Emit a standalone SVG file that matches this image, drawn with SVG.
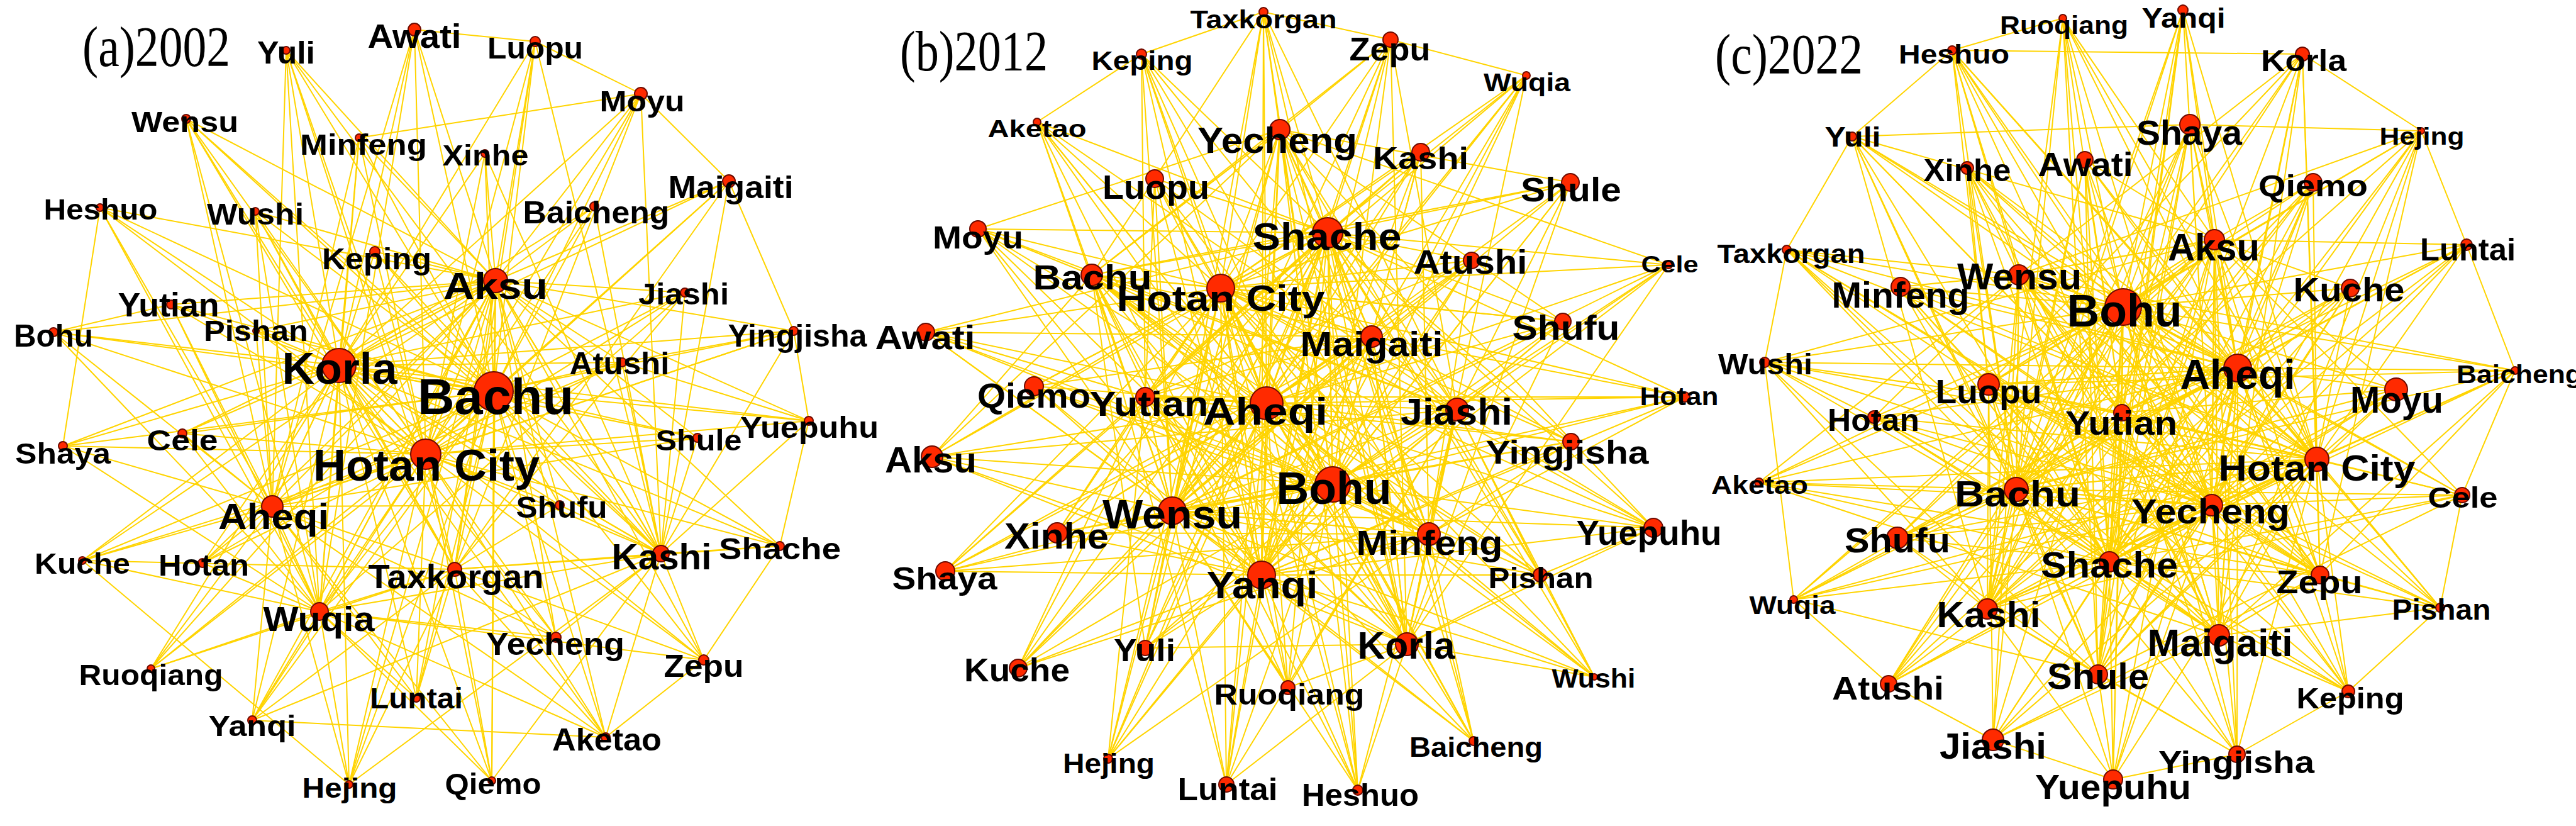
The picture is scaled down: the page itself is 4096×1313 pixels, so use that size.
<svg xmlns="http://www.w3.org/2000/svg" width="4096" height="1313" viewBox="0 0 4096 1313">
<style>
.e{fill:none;stroke:#FFD400;stroke-width:2;stroke-linejoin:round}
.n{fill:#FF2A00;stroke:#6E0A00;stroke-width:2}
.t{font-family:"Liberation Sans",Arial,sans-serif;font-weight:bold;text-anchor:middle;fill:#000}
.ttl{font-family:"Liberation Serif","Times New Roman",serif;font-size:90px;fill:#000}
</style>
<rect width="4096" height="1313" fill="#fff"/>
<g id="connectors">
<g id="edges-a">
<path class="e" d="M455 80L785 622 659 47M851 66L785 622 1019 149M296 189L785 622 571 219M771 244L785 622 1159 288M159 330L785 622 406 336M945 328L785 622 596 400M788 446L785 622 1089 465M272 484L785 622 85 528M407 526L785 622 1262 526M539 581L785 622 989 576M785 622L785 622 290 689M100 709L785 622 677 722M1109 696L785 622 1286 669M890 803L785 622 433 805M1051 880L785 622 1240 868M131 891L785 622 322 895M723 905L785 622 508 972M884 1013L785 622 1119 1049M240 1063L785 622 662 1110M401 1145L785 622 963 1172M555 1247L785 622 782 1241"/>
<path class="e" d="M455 80L539 581 659 47M851 66L539 581 1019 149M296 189L539 581 571 219M771 244L539 581 1159 288M159 330L539 581 406 336M945 328L539 581 596 400M788 446L539 581 1089 465M272 484L539 581 85 528M407 526L539 581 1262 526M539 581L539 581 989 576M785 622L539 581 290 689M100 709L539 581 677 722M1109 696L539 581 1286 669M890 803L539 581 433 805M1051 880L539 581 1240 868M131 891L539 581 322 895M723 905L539 581 508 972M884 1013L539 581 1119 1049M240 1063L539 581 662 1110M401 1145L539 581 963 1172M555 1247L539 581 782 1241"/>
<path class="e" d="M455 80L677 722 659 47M851 66L677 722 1019 149M296 189L677 722 571 219M771 244L677 722 1159 288M159 330L677 722 406 336M945 328L677 722 596 400M788 446L677 722 1089 465M272 484L677 722 85 528M407 526L677 722 1262 526M539 581L677 722 989 576M785 622L677 722 290 689M100 709L677 722 677 722M1109 696L677 722 1286 669M890 803L677 722 433 805M1051 880L677 722 1240 868M131 891L677 722 322 895M723 905L677 722 508 972M884 1013L677 722 1119 1049M240 1063L677 722 662 1110M401 1145L677 722 963 1172M555 1247L677 722 782 1241"/>
<path class="e" d="M455 80L788 446 659 47M851 66L788 446 1019 149M296 189L788 446 571 219M771 244L788 446 1159 288M159 330L788 446 406 336M945 328L788 446 596 400M788 446L788 446 1089 465M272 484L788 446 85 528M407 526L788 446 1262 526M539 581L788 446 989 576M785 622L788 446 290 689M100 709L788 446 677 722M1109 696L788 446 1286 669M890 803L788 446 433 805M1051 880L788 446 1240 868M131 891L788 446 322 895M723 905L788 446 508 972M884 1013L788 446 1119 1049M240 1063L788 446 662 1110M401 1145L788 446 963 1172M555 1247L788 446 782 1241"/>
<path class="e" d="M455 80L433 805 659 47M296 189L433 805 571 219M159 330L433 805 406 336M272 484L433 805 85 528M407 526L433 805 1262 526M539 581L433 805 989 576M100 709L433 805 677 722M890 803L433 805 1109 696M131 891L433 805 322 895M723 905L433 805 508 972M240 1063L433 805 662 1110M401 1145L433 805 963 1172M555 1247L433 805 782 1241M884 1013L433 805 290 689"/>
<path class="e" d="M455 80L508 972 659 47M296 189L508 972 571 219M159 330L508 972 406 336M788 446L508 972 1089 465M272 484L508 972 85 528M290 689L508 972 100 709M131 891L508 972 322 895M884 1013L508 972 1119 1049M240 1063L508 972 662 1110M401 1145L508 972 963 1172M555 1247L508 972 782 1241M1051 880L508 972 723 905"/>
<path class="e" d="M851 66L1051 880 1019 149M771 244L1051 880 1159 288M945 328L1051 880 596 400M788 446L1051 880 1089 465M539 581L1051 880 989 576M1109 696L1051 880 1286 669M890 803L1051 880 1240 868M884 1013L1051 880 1119 1049M401 1145L1051 880 963 1172M555 1247L1051 880 782 1241M455 80L1051 880 296 189M1262 526L1051 880 723 905"/>
<path class="e" d="M455 80L723 905 851 66M296 189L723 905 1019 149M406 336L723 905 1159 288M1089 465L723 905 890 803M884 1013L723 905 1119 1049M662 1110L723 905 963 1172M555 1247L723 905 782 1241M131 891L723 905 1240 868M240 1063L723 905 401 1145"/>
<path class="e" d="M659 47L851 66 1019 149 571 219M1019 149L1159 288 1262 526 1286 669 1240 868 1119 1049 963 1172 401 1145M85 528L272 484M159 330L100 709M131 891L555 1247M1262 526L989 576 1286 669"/>
</g>
<g id="edges-b">
<path class="e" d="M2009 19L2119 770 2211 63M1815 86L2119 770 2427 120M1649 194L2119 770 2035 206M2259 242L2119 770 1836 284M2497 290L2119 770 1555 364M2111 370L2119 770 2340 414M2653 421L2119 770 1736 437M1941 458L2119 770 1472 528M2485 511L2119 770 2181 535M1644 614L2119 770 1821 631M2014 641L2119 770 2317 651M2679 631L2119 770 2498 702M1482 726L2119 770 2119 770M1864 812L2119 770 1681 847M2272 849L2119 770 2629 839M1503 908L2119 770 2006 914M2449 914L2119 770 1821 1030M2237 1024L2119 770 1619 1062M2535 1076L2119 770 2048 1093M2343 1178L2119 770 1762 1206M1950 1247L2119 770 2159 1256"/>
<path class="e" d="M2009 19L2014 641 2211 63M1815 86L2014 641 2427 120M1649 194L2014 641 2035 206M2259 242L2014 641 1836 284M2497 290L2014 641 1555 364M2111 370L2014 641 2340 414M2653 421L2014 641 1736 437M1941 458L2014 641 1472 528M2485 511L2014 641 2181 535M1644 614L2014 641 1821 631M2014 641L2014 641 2317 651M2679 631L2014 641 2498 702M1482 726L2014 641 2119 770M1864 812L2014 641 1681 847M2272 849L2014 641 2629 839M1503 908L2014 641 2006 914M2449 914L2014 641 1821 1030M2237 1024L2014 641 1619 1062M2535 1076L2014 641 2048 1093M2343 1178L2014 641 1762 1206M1950 1247L2014 641 2159 1256"/>
<path class="e" d="M2009 19L1864 812 2211 63M1815 86L1864 812 2427 120M1649 194L1864 812 2035 206M2259 242L1864 812 1836 284M2497 290L1864 812 1555 364M2111 370L1864 812 2340 414M2653 421L1864 812 1736 437M1941 458L1864 812 1472 528M2485 511L1864 812 2181 535M1644 614L1864 812 1821 631M2014 641L1864 812 2317 651M2679 631L1864 812 2498 702M1482 726L1864 812 2119 770M1864 812L1864 812 1681 847M2272 849L1864 812 2629 839M1503 908L1864 812 2006 914M2449 914L1864 812 1821 1030M2237 1024L1864 812 1619 1062M2535 1076L1864 812 2048 1093M2343 1178L1864 812 1762 1206M1950 1247L1864 812 2159 1256"/>
<path class="e" d="M2009 19L2006 914 2211 63M1815 86L2006 914 2427 120M1649 194L2006 914 2035 206M2259 242L2006 914 1836 284M2497 290L2006 914 1555 364M2111 370L2006 914 2340 414M2653 421L2006 914 1736 437M1941 458L2006 914 1472 528M2485 511L2006 914 2181 535M1644 614L2006 914 1821 631M2014 641L2006 914 2317 651M2679 631L2006 914 2498 702M1482 726L2006 914 2119 770M1864 812L2006 914 1681 847M2272 849L2006 914 2629 839M1503 908L2006 914 2006 914M2449 914L2006 914 1821 1030M2237 1024L2006 914 1619 1062M2535 1076L2006 914 2048 1093M2343 1178L2006 914 1762 1206M1950 1247L2006 914 2159 1256"/>
<path class="e" d="M2009 19L2111 370 2211 63M1815 86L2111 370 2427 120M1649 194L2111 370 2035 206M2259 242L2111 370 1836 284M2497 290L2111 370 1555 364M2111 370L2111 370 2340 414M2653 421L2111 370 1736 437M1941 458L2111 370 1472 528M2485 511L2111 370 2181 535M1644 614L2111 370 1821 631M2014 641L2111 370 2317 651M2679 631L2111 370 2498 702M1482 726L2111 370 2119 770M1864 812L2111 370 1681 847M2272 849L2111 370 2629 839M1503 908L2111 370 2006 914M2449 914L2111 370 1821 1030M2237 1024L2111 370 1619 1062M2535 1076L2111 370 2048 1093M2343 1178L2111 370 1762 1206M1950 1247L2111 370 2159 1256"/>
<path class="e" d="M2009 19L1941 458 2211 63M1815 86L1941 458 2427 120M1649 194L1941 458 2035 206M2259 242L1941 458 1836 284M2497 290L1941 458 1555 364M2111 370L1941 458 2340 414M2653 421L1941 458 1736 437M1941 458L1941 458 1472 528M2485 511L1941 458 2181 535M1644 614L1941 458 1821 631M2014 641L1941 458 2317 651M2679 631L1941 458 2498 702M1482 726L1941 458 2119 770M1864 812L1941 458 1681 847M2272 849L1941 458 2629 839M1503 908L1941 458 2006 914M2449 914L1941 458 1821 1030M2237 1024L1941 458 1619 1062M2535 1076L1941 458 2048 1093M2343 1178L1941 458 1762 1206M1950 1247L1941 458 2159 1256"/>
<path class="e" d="M2009 19L2317 651 2211 63M1649 194L2317 651 2035 206M2497 290L2317 651 1555 364M2653 421L2317 651 1736 437M2485 511L2317 651 2181 535M1482 726L2317 651 2119 770M2272 849L2317 651 2629 839M2449 914L2317 651 1821 1030M2535 1076L2317 651 2048 1093M1950 1247L2317 651 2159 1256"/>
<path class="e" d="M2009 19L2237 1024 2211 63M1649 194L2237 1024 2035 206M2497 290L2237 1024 1555 364M2653 421L2237 1024 1736 437M2485 511L2237 1024 2181 535M2014 641L2237 1024 2317 651M1482 726L2237 1024 2119 770M2272 849L2237 1024 2629 839M2449 914L2237 1024 1821 1030M2535 1076L2237 1024 2048 1093M1950 1247L2237 1024 2159 1256"/>
<path class="e" d="M2009 19L1736 437 2211 63M1649 194L1736 437 2035 206M2497 290L1736 437 1555 364M2485 511L1736 437 2181 535M2014 641L1736 437 2317 651M1482 726L1736 437 2119 770M2272 849L1736 437 2629 839M2449 914L1736 437 1821 1030M2535 1076L1736 437 2048 1093M1950 1247L1736 437 2159 1256"/>
<path class="e" d="M1815 86L1821 631 2427 120M2259 242L1821 631 1836 284M2111 370L1821 631 2340 414M1941 458L1821 631 1472 528M2679 631L1821 631 2498 702M1864 812L1821 631 1681 847M1503 908L1821 631 2006 914M2237 1024L1821 631 1619 1062M2343 1178L1821 631 1762 1206"/>
<path class="e" d="M1815 86L2272 849 2427 120M2259 242L2272 849 1836 284M2111 370L2272 849 2340 414M1941 458L2272 849 1472 528M1644 614L2272 849 1821 631M2679 631L2272 849 2498 702M1864 812L2272 849 1681 847M1503 908L2272 849 2006 914M2237 1024L2272 849 1619 1062M2343 1178L2272 849 1762 1206"/>
<path class="e" d="M1815 86L2181 535 2427 120M2259 242L2181 535 1836 284M2111 370L2181 535 2340 414M1941 458L2181 535 1472 528M1644 614L2181 535 1821 631M2679 631L2181 535 2498 702M1864 812L2181 535 1681 847M1503 908L2181 535 2006 914M2237 1024L2181 535 1619 1062M2343 1178L2181 535 1762 1206"/>
<path class="e" d="M2009 19L2035 206 2211 63M2497 290L2035 206 1555 364M2653 421L2035 206 1736 437M2485 511L2035 206 2181 535M1482 726L2035 206 2119 770M2272 849L2035 206 2629 839M2449 914L2035 206 1821 1030M1950 1247L2035 206 2159 1256M1815 86L2009 19 2211 63 2427 120M1649 194L1815 86M2535 1076L2449 914 2629 839"/>
</g>
<g id="edges-c">
<path class="e" d="M3280 29L3376 488 3471 16M3104 80L3376 488 3661 86M2945 217L3376 488 3482 198M3850 208L3376 488 3128 267M3315 254L3376 488 3678 290M2841 397L3376 488 3521 381M3922 389L3376 488 3210 437M3022 456L3376 488 3376 488M3737 458L3376 488 2806 576M3558 585L3376 488 3999 589M3162 611L3376 488 3810 619M2980 663L3376 488 3374 656M3684 730L3376 488 3915 787M2797 767L3376 488 3206 778M3517 803L3376 488 3017 855M3354 893L3376 488 3689 914M2852 953L3376 488 3160 968M3880 966L3376 488 3528 1010M3336 1072L3376 488 3003 1087M3734 1099L3376 488 3169 1176M3557 1199L3376 488 3360 1239"/>
<path class="e" d="M3280 29L3558 585 3471 16M3104 80L3558 585 3661 86M2945 217L3558 585 3482 198M3850 208L3558 585 3128 267M3315 254L3558 585 3678 290M2841 397L3558 585 3521 381M3922 389L3558 585 3210 437M3022 456L3558 585 3376 488M3737 458L3558 585 2806 576M3558 585L3558 585 3999 589M3162 611L3558 585 3810 619M2980 663L3558 585 3374 656M3684 730L3558 585 3915 787M2797 767L3558 585 3206 778M3517 803L3558 585 3017 855M3354 893L3558 585 3689 914M2852 953L3558 585 3160 968M3880 966L3558 585 3528 1010M3336 1072L3558 585 3003 1087M3734 1099L3558 585 3169 1176M3557 1199L3558 585 3360 1239"/>
<path class="e" d="M3280 29L3684 730 3471 16M3104 80L3684 730 3661 86M2945 217L3684 730 3482 198M3850 208L3684 730 3128 267M3315 254L3684 730 3678 290M2841 397L3684 730 3521 381M3922 389L3684 730 3210 437M3022 456L3684 730 3376 488M3737 458L3684 730 2806 576M3558 585L3684 730 3999 589M3162 611L3684 730 3810 619M2980 663L3684 730 3374 656M3684 730L3684 730 3915 787M2797 767L3684 730 3206 778M3517 803L3684 730 3017 855M3354 893L3684 730 3689 914M2852 953L3684 730 3160 968M3880 966L3684 730 3528 1010M3336 1072L3684 730 3003 1087M3734 1099L3684 730 3169 1176M3557 1199L3684 730 3360 1239"/>
<path class="e" d="M3280 29L3206 778 3471 16M3104 80L3206 778 3661 86M2945 217L3206 778 3482 198M3850 208L3206 778 3128 267M3315 254L3206 778 3678 290M2841 397L3206 778 3521 381M3922 389L3206 778 3210 437M3022 456L3206 778 3376 488M3737 458L3206 778 2806 576M3558 585L3206 778 3999 589M3162 611L3206 778 3810 619M2980 663L3206 778 3374 656M3684 730L3206 778 3915 787M2797 767L3206 778 3206 778M3517 803L3206 778 3017 855M3354 893L3206 778 3689 914M2852 953L3206 778 3160 968M3880 966L3206 778 3528 1010M3336 1072L3206 778 3003 1087M3734 1099L3206 778 3169 1176M3557 1199L3206 778 3360 1239"/>
<path class="e" d="M3280 29L3517 803 3471 16M3104 80L3517 803 3661 86M2945 217L3517 803 3482 198M3850 208L3517 803 3128 267M3315 254L3517 803 3678 290M2841 397L3517 803 3521 381M3922 389L3517 803 3210 437M3022 456L3517 803 3376 488M3737 458L3517 803 2806 576M3558 585L3517 803 3999 589M3162 611L3517 803 3810 619M2980 663L3517 803 3374 656M3684 730L3517 803 3915 787M2797 767L3517 803 3206 778M3517 803L3517 803 3017 855M3354 893L3517 803 3689 914M2852 953L3517 803 3160 968M3880 966L3517 803 3528 1010M3336 1072L3517 803 3003 1087M3734 1099L3517 803 3169 1176M3557 1199L3517 803 3360 1239"/>
<path class="e" d="M3280 29L3354 893 3471 16M3104 80L3354 893 3661 86M2945 217L3354 893 3482 198M3850 208L3354 893 3128 267M3315 254L3354 893 3678 290M2841 397L3354 893 3521 381M3922 389L3354 893 3210 437M3022 456L3354 893 3376 488M3737 458L3354 893 2806 576M3558 585L3354 893 3999 589M3162 611L3354 893 3810 619M2980 663L3354 893 3374 656M3684 730L3354 893 3915 787M2797 767L3354 893 3206 778M3517 803L3354 893 3017 855M3354 893L3354 893 3689 914M2852 953L3354 893 3160 968M3880 966L3354 893 3528 1010M3336 1072L3354 893 3003 1087M3734 1099L3354 893 3169 1176M3557 1199L3354 893 3360 1239"/>
<path class="e" d="M3280 29L3521 381 3471 16M2945 217L3521 381 3482 198M3315 254L3521 381 3678 290M3922 389L3521 381 3210 437M3737 458L3521 381 2806 576M3162 611L3521 381 3810 619M3684 730L3521 381 3915 787M3517 803L3521 381 3017 855M2852 953L3521 381 3160 968M3336 1072L3521 381 3003 1087M3557 1199L3521 381 3360 1239"/>
<path class="e" d="M3280 29L3160 968 3471 16M2945 217L3160 968 3482 198M3315 254L3160 968 3678 290M3922 389L3160 968 3210 437M3737 458L3160 968 2806 576M3162 611L3160 968 3810 619M3684 730L3160 968 3915 787M3517 803L3160 968 3017 855M3336 1072L3160 968 3003 1087M3557 1199L3160 968 3360 1239"/>
<path class="e" d="M3280 29L3374 656 3471 16M2945 217L3374 656 3482 198M3315 254L3374 656 3678 290M3922 389L3374 656 3210 437M3737 458L3374 656 2806 576M3162 611L3374 656 3810 619M3684 730L3374 656 3915 787M3517 803L3374 656 3017 855M2852 953L3374 656 3160 968M3336 1072L3374 656 3003 1087M3557 1199L3374 656 3360 1239"/>
<path class="e" d="M3280 29L3336 1072 3471 16M2945 217L3336 1072 3482 198M3315 254L3336 1072 3678 290M3737 458L3336 1072 2806 576M3162 611L3336 1072 3810 619M3684 730L3336 1072 3915 787M3517 803L3336 1072 3017 855M2852 953L3336 1072 3160 968M3557 1199L3336 1072 3360 1239"/>
<path class="e" d="M3104 80L3528 1010 3661 86M3850 208L3528 1010 3128 267M2841 397L3528 1010 3521 381M3022 456L3528 1010 3376 488M3558 585L3528 1010 3999 589M2980 663L3528 1010 3374 656M2797 767L3528 1010 3206 778M3354 893L3528 1010 3689 914M3880 966L3528 1010 3528 1010M3734 1099L3528 1010 3169 1176"/>
<path class="e" d="M3104 80L3210 437 3661 86M3850 208L3210 437 3128 267M2841 397L3210 437 3521 381M3022 456L3210 437 3376 488M3558 585L3210 437 3999 589M2980 663L3210 437 3374 656M2797 767L3210 437 3206 778M3354 893L3210 437 3689 914M3880 966L3210 437 3528 1010M3734 1099L3210 437 3169 1176"/>
<path class="e" d="M3104 80L3689 914 3661 86M3850 208L3689 914 3128 267M2841 397L3689 914 3521 381M3022 456L3689 914 3376 488M3558 585L3689 914 3999 589M2980 663L3689 914 3374 656M2797 767L3689 914 3206 778M3880 966L3689 914 3528 1010M3734 1099L3689 914 3169 1176"/>
<path class="e" d="M3104 80L3162 611 3661 86M3850 208L3162 611 3128 267M2841 397L3162 611 3521 381M3022 456L3162 611 3376 488M3558 585L3162 611 3999 589M2797 767L3162 611 3206 778M3354 893L3162 611 3689 914M3880 966L3162 611 3528 1010M3734 1099L3162 611 3169 1176"/>
<path class="e" d="M2945 217L3482 198 3850 208M3104 80L3661 86 3850 208 3922 389 3999 589 3915 787 3880 966 3734 1099 3557 1199 3360 1239 3169 1176 3003 1087 2852 953 2806 576 2841 397 2945 217 3104 80 3280 29"/>
</g>
</g>
<g id="titles">
<text class="ttl" x="131" y="105" textLength="235" lengthAdjust="spacingAndGlyphs">(a)2002</text>
<text class="ttl" x="1431" y="112" textLength="235" lengthAdjust="spacingAndGlyphs">(b)2012</text>
<text class="ttl" x="2727" y="117" textLength="235" lengthAdjust="spacingAndGlyphs">(c)2022</text>
</g>
<g id="nodes-a">
<g id="a-yuli"><circle class="n" cx="455" cy="80" r="6"/><text class="t" x="455" y="101" font-size="50" textLength="92" lengthAdjust="spacingAndGlyphs">Yuli</text></g>
<g id="a-awati"><circle class="n" cx="659" cy="47" r="10"/><text class="t" x="659" y="76" font-size="54" textLength="149" lengthAdjust="spacingAndGlyphs">Awati</text></g>
<g id="a-luopu"><circle class="n" cx="851" cy="66" r="8"/><text class="t" x="851" y="93" font-size="48" textLength="152" lengthAdjust="spacingAndGlyphs">Luopu</text></g>
<g id="a-moyu"><circle class="n" cx="1019" cy="149" r="10"/><text class="t" x="1021" y="177" font-size="47" textLength="135" lengthAdjust="spacingAndGlyphs">Moyu</text></g>
<g id="a-wensu"><circle class="n" cx="296" cy="189" r="7"/><text class="t" x="294" y="210" font-size="47" textLength="170" lengthAdjust="spacingAndGlyphs">Wensu</text></g>
<g id="a-minfeng"><circle class="n" cx="571" cy="219" r="6"/><text class="t" x="578" y="246" font-size="47" textLength="202" lengthAdjust="spacingAndGlyphs">Minfeng</text></g>
<g id="a-xinhe"><circle class="n" cx="771" cy="244" r="6"/><text class="t" x="772" y="263" font-size="47" textLength="137" lengthAdjust="spacingAndGlyphs">Xinhe</text></g>
<g id="a-maigaiti"><circle class="n" cx="1159" cy="288" r="10"/><text class="t" x="1162" y="315" font-size="50" textLength="199" lengthAdjust="spacingAndGlyphs">Maigaiti</text></g>
<g id="a-heshuo"><circle class="n" cx="159" cy="330" r="6"/><text class="t" x="160" y="349" font-size="47" textLength="181" lengthAdjust="spacingAndGlyphs">Heshuo</text></g>
<g id="a-wushi"><circle class="n" cx="406" cy="336" r="6"/><text class="t" x="406" y="357" font-size="48" textLength="154" lengthAdjust="spacingAndGlyphs">Wushi</text></g>
<g id="a-baicheng"><circle class="n" cx="945" cy="328" r="7"/><text class="t" x="948" y="355" font-size="50" textLength="233" lengthAdjust="spacingAndGlyphs">Baicheng</text></g>
<g id="a-keping"><circle class="n" cx="596" cy="400" r="8"/><text class="t" x="599" y="428" font-size="48" textLength="174" lengthAdjust="spacingAndGlyphs">Keping</text></g>
<g id="a-aksu"><circle class="n" cx="788" cy="446" r="19"/><text class="t" x="788" y="475" font-size="59" textLength="166" lengthAdjust="spacingAndGlyphs">Aksu</text></g>
<g id="a-jiashi"><circle class="n" cx="1089" cy="465" r="7"/><text class="t" x="1087" y="484" font-size="48" textLength="144" lengthAdjust="spacingAndGlyphs">Jiashi</text></g>
<g id="a-yutian"><circle class="n" cx="272" cy="484" r="7"/><text class="t" x="268" y="503" font-size="53" textLength="161" lengthAdjust="spacingAndGlyphs">Yutian</text></g>
<g id="a-bohu"><circle class="n" cx="85" cy="528" r="7"/><text class="t" x="85" y="551" font-size="50" textLength="126" lengthAdjust="spacingAndGlyphs">Bohu</text></g>
<g id="a-pishan"><circle class="n" cx="407" cy="526" r="5"/><text class="t" x="407" y="542" font-size="46" textLength="166" lengthAdjust="spacingAndGlyphs">Pishan</text></g>
<g id="a-yingjisha"><circle class="n" cx="1262" cy="526" r="7"/><text class="t" x="1268" y="551" font-size="50" textLength="221" lengthAdjust="spacingAndGlyphs">Yingjisha</text></g>
<g id="a-korla"><circle class="n" cx="539" cy="581" r="27"/><text class="t" x="540" y="610" font-size="70" textLength="183" lengthAdjust="spacingAndGlyphs">Korla</text></g>
<g id="a-atushi"><circle class="n" cx="989" cy="576" r="7"/><text class="t" x="985" y="595" font-size="50" textLength="159" lengthAdjust="spacingAndGlyphs">Atushi</text></g>
<g id="a-bachu"><circle class="n" cx="785" cy="622" r="31"/><text class="t" x="788" y="658" font-size="79" textLength="248" lengthAdjust="spacingAndGlyphs">Bachu</text></g>
<g id="a-cele"><circle class="n" cx="290" cy="689" r="7"/><text class="t" x="290" y="716" font-size="47" textLength="113" lengthAdjust="spacingAndGlyphs">Cele</text></g>
<g id="a-shaya"><circle class="n" cx="100" cy="709" r="7"/><text class="t" x="100" y="737" font-size="47" textLength="152" lengthAdjust="spacingAndGlyphs">Shaya</text></g>
<g id="a-hotancity"><circle class="n" cx="677" cy="722" r="24"/><text class="t" x="678" y="764" font-size="70" textLength="360" lengthAdjust="spacingAndGlyphs">Hotan City</text></g>
<g id="a-shule"><circle class="n" cx="1109" cy="696" r="7"/><text class="t" x="1111" y="716" font-size="47" textLength="137" lengthAdjust="spacingAndGlyphs">Shule</text></g>
<g id="a-yuepuhu"><circle class="n" cx="1286" cy="669" r="7"/><text class="t" x="1287" y="696" font-size="48" textLength="220" lengthAdjust="spacingAndGlyphs">Yuepuhu</text></g>
<g id="a-shufu"><circle class="n" cx="890" cy="803" r="7"/><text class="t" x="893" y="823" font-size="48" textLength="145" lengthAdjust="spacingAndGlyphs">Shufu</text></g>
<g id="a-aheqi"><circle class="n" cx="433" cy="805" r="17"/><text class="t" x="435" y="841" font-size="58" textLength="176" lengthAdjust="spacingAndGlyphs">Aheqi</text></g>
<g id="a-kashi"><circle class="n" cx="1051" cy="880" r="13"/><text class="t" x="1052" y="905" font-size="57" textLength="159" lengthAdjust="spacingAndGlyphs">Kashi</text></g>
<g id="a-shache"><circle class="n" cx="1240" cy="868" r="7"/><text class="t" x="1240" y="889" font-size="48" textLength="194" lengthAdjust="spacingAndGlyphs">Shache</text></g>
<g id="a-kuche"><circle class="n" cx="131" cy="891" r="6"/><text class="t" x="131" y="912" font-size="47" textLength="152" lengthAdjust="spacingAndGlyphs">Kuche</text></g>
<g id="a-hotan"><circle class="n" cx="322" cy="895" r="7"/><text class="t" x="324" y="915" font-size="48" textLength="144" lengthAdjust="spacingAndGlyphs">Hotan</text></g>
<g id="a-taxkorgan"><circle class="n" cx="723" cy="905" r="11"/><text class="t" x="725" y="935" font-size="53" textLength="279" lengthAdjust="spacingAndGlyphs">Taxkorgan</text></g>
<g id="a-wuqia"><circle class="n" cx="508" cy="972" r="14"/><text class="t" x="507" y="1003" font-size="55" textLength="177" lengthAdjust="spacingAndGlyphs">Wuqia</text></g>
<g id="a-yecheng"><circle class="n" cx="884" cy="1013" r="8"/><text class="t" x="883" y="1041" font-size="50" textLength="220" lengthAdjust="spacingAndGlyphs">Yecheng</text></g>
<g id="a-zepu"><circle class="n" cx="1119" cy="1049" r="8"/><text class="t" x="1119" y="1076" font-size="50" textLength="127" lengthAdjust="spacingAndGlyphs">Zepu</text></g>
<g id="a-ruoqiang"><circle class="n" cx="240" cy="1063" r="6"/><text class="t" x="240" y="1089" font-size="47" textLength="229" lengthAdjust="spacingAndGlyphs">Ruoqiang</text></g>
<g id="a-luntai"><circle class="n" cx="662" cy="1110" r="6"/><text class="t" x="662" y="1126" font-size="46" textLength="148" lengthAdjust="spacingAndGlyphs">Luntai</text></g>
<g id="a-yanqi"><circle class="n" cx="401" cy="1145" r="7"/><text class="t" x="401" y="1170" font-size="47" textLength="139" lengthAdjust="spacingAndGlyphs">Yanqi</text></g>
<g id="a-aketao"><circle class="n" cx="963" cy="1172" r="7"/><text class="t" x="965" y="1193" font-size="50" textLength="174" lengthAdjust="spacingAndGlyphs">Aketao</text></g>
<g id="a-hejing"><circle class="n" cx="555" cy="1247" r="6"/><text class="t" x="556" y="1268" font-size="44" textLength="151" lengthAdjust="spacingAndGlyphs">Hejing</text></g>
<g id="a-qiemo"><circle class="n" cx="782" cy="1241" r="6"/><text class="t" x="784" y="1262" font-size="47" textLength="153" lengthAdjust="spacingAndGlyphs">Qiemo</text></g>
</g>
<g id="nodes-b">
<g id="b-taxkorgan"><circle class="n" cx="2009" cy="19" r="7"/><text class="t" x="2009" y="45" font-size="40" textLength="233" lengthAdjust="spacingAndGlyphs">Taxkorgan</text></g>
<g id="b-zepu"><circle class="n" cx="2211" cy="63" r="12"/><text class="t" x="2210" y="96" font-size="52" textLength="129" lengthAdjust="spacingAndGlyphs">Zepu</text></g>
<g id="b-keping"><circle class="n" cx="1815" cy="86" r="8"/><text class="t" x="1816" y="111" font-size="42" textLength="161" lengthAdjust="spacingAndGlyphs">Keping</text></g>
<g id="b-wuqia"><circle class="n" cx="2427" cy="120" r="6"/><text class="t" x="2428" y="145" font-size="40" textLength="138" lengthAdjust="spacingAndGlyphs">Wuqia</text></g>
<g id="b-aketao"><circle class="n" cx="1649" cy="194" r="6"/><text class="t" x="1649" y="218" font-size="38" textLength="157" lengthAdjust="spacingAndGlyphs">Aketao</text></g>
<g id="b-yecheng"><circle class="n" cx="2035" cy="206" r="16"/><text class="t" x="2031" y="243" font-size="57" textLength="254" lengthAdjust="spacingAndGlyphs">Yecheng</text></g>
<g id="b-kashi"><circle class="n" cx="2259" cy="242" r="14"/><text class="t" x="2259" y="269" font-size="50" textLength="152" lengthAdjust="spacingAndGlyphs">Kashi</text></g>
<g id="b-luopu"><circle class="n" cx="1836" cy="284" r="14"/><text class="t" x="1838" y="316" font-size="54" textLength="170" lengthAdjust="spacingAndGlyphs">Luopu</text></g>
<g id="b-shule"><circle class="n" cx="2497" cy="290" r="14"/><text class="t" x="2498" y="320" font-size="54" textLength="160" lengthAdjust="spacingAndGlyphs">Shule</text></g>
<g id="b-moyu"><circle class="n" cx="1555" cy="364" r="13"/><text class="t" x="1555" y="395" font-size="50" textLength="144" lengthAdjust="spacingAndGlyphs">Moyu</text></g>
<g id="b-shache"><circle class="n" cx="2111" cy="370" r="24"/><text class="t" x="2110" y="397" font-size="62" textLength="237" lengthAdjust="spacingAndGlyphs">Shache</text></g>
<g id="b-atushi"><circle class="n" cx="2340" cy="414" r="13"/><text class="t" x="2338" y="435" font-size="53" textLength="181" lengthAdjust="spacingAndGlyphs">Atushi</text></g>
<g id="b-cele"><circle class="n" cx="2653" cy="421" r="6"/><text class="t" x="2655" y="433" font-size="36" textLength="91" lengthAdjust="spacingAndGlyphs">Cele</text></g>
<g id="b-bachu"><circle class="n" cx="1736" cy="437" r="17"/><text class="t" x="1737" y="460" font-size="56" textLength="189" lengthAdjust="spacingAndGlyphs">Bachu</text></g>
<g id="b-hotancity"><circle class="n" cx="1941" cy="458" r="22"/><text class="t" x="1941" y="494" font-size="58" textLength="331" lengthAdjust="spacingAndGlyphs">Hotan City</text></g>
<g id="b-awati"><circle class="n" cx="1472" cy="528" r="14"/><text class="t" x="1471" y="555" font-size="53" textLength="159" lengthAdjust="spacingAndGlyphs">Awati</text></g>
<g id="b-shufu"><circle class="n" cx="2485" cy="511" r="13"/><text class="t" x="2490" y="540" font-size="55" textLength="171" lengthAdjust="spacingAndGlyphs">Shufu</text></g>
<g id="b-maigaiti"><circle class="n" cx="2181" cy="535" r="17"/><text class="t" x="2181" y="566" font-size="56" textLength="227" lengthAdjust="spacingAndGlyphs">Maigaiti</text></g>
<g id="b-qiemo"><circle class="n" cx="1644" cy="614" r="15"/><text class="t" x="1644" y="648" font-size="56" textLength="180" lengthAdjust="spacingAndGlyphs">Qiemo</text></g>
<g id="b-yutian"><circle class="n" cx="1821" cy="631" r="15"/><text class="t" x="1827" y="661" font-size="56" textLength="189" lengthAdjust="spacingAndGlyphs">Yutian</text></g>
<g id="b-aheqi"><circle class="n" cx="2014" cy="641" r="26"/><text class="t" x="2012" y="675" font-size="62" textLength="198" lengthAdjust="spacingAndGlyphs">Aheqi</text></g>
<g id="b-jiashi"><circle class="n" cx="2317" cy="651" r="18"/><text class="t" x="2316" y="675" font-size="59" textLength="178" lengthAdjust="spacingAndGlyphs">Jiashi</text></g>
<g id="b-hotan"><circle class="n" cx="2679" cy="631" r="8"/><text class="t" x="2670" y="644" font-size="40" textLength="125" lengthAdjust="spacingAndGlyphs">Hotan</text></g>
<g id="b-yingjisha"><circle class="n" cx="2498" cy="702" r="13"/><text class="t" x="2492" y="737" font-size="52" textLength="259" lengthAdjust="spacingAndGlyphs">Yingjisha</text></g>
<g id="b-aksu"><circle class="n" cx="1482" cy="726" r="17"/><text class="t" x="1480" y="751" font-size="58" textLength="146" lengthAdjust="spacingAndGlyphs">Aksu</text></g>
<g id="b-bohu"><circle class="n" cx="2119" cy="770" r="28"/><text class="t" x="2121" y="801" font-size="73" textLength="183" lengthAdjust="spacingAndGlyphs">Bohu</text></g>
<g id="b-wensu"><circle class="n" cx="1864" cy="812" r="22"/><text class="t" x="1864" y="840" font-size="65" textLength="222" lengthAdjust="spacingAndGlyphs">Wensu</text></g>
<g id="b-xinhe"><circle class="n" cx="1681" cy="847" r="16"/><text class="t" x="1680" y="872" font-size="58" textLength="166" lengthAdjust="spacingAndGlyphs">Xinhe</text></g>
<g id="b-minfeng"><circle class="n" cx="2272" cy="849" r="18"/><text class="t" x="2273" y="882" font-size="55" textLength="233" lengthAdjust="spacingAndGlyphs">Minfeng</text></g>
<g id="b-yuepuhu"><circle class="n" cx="2629" cy="839" r="15"/><text class="t" x="2622" y="866" font-size="55" textLength="231" lengthAdjust="spacingAndGlyphs">Yuepuhu</text></g>
<g id="b-shaya"><circle class="n" cx="1503" cy="908" r="15"/><text class="t" x="1502" y="937" font-size="50" textLength="167" lengthAdjust="spacingAndGlyphs">Shaya</text></g>
<g id="b-yanqi"><circle class="n" cx="2006" cy="914" r="22"/><text class="t" x="2007" y="951" font-size="61" textLength="177" lengthAdjust="spacingAndGlyphs">Yanqi</text></g>
<g id="b-pishan"><circle class="n" cx="2449" cy="914" r="11"/><text class="t" x="2450" y="935" font-size="47" textLength="167" lengthAdjust="spacingAndGlyphs">Pishan</text></g>
<g id="b-yuli"><circle class="n" cx="1821" cy="1030" r="12"/><text class="t" x="1820" y="1051" font-size="50" textLength="98" lengthAdjust="spacingAndGlyphs">Yuli</text></g>
<g id="b-korla"><circle class="n" cx="2237" cy="1024" r="18"/><text class="t" x="2236" y="1047" font-size="61" textLength="155" lengthAdjust="spacingAndGlyphs">Korla</text></g>
<g id="b-kuche"><circle class="n" cx="1619" cy="1062" r="14"/><text class="t" x="1617" y="1083" font-size="52" textLength="168" lengthAdjust="spacingAndGlyphs">Kuche</text></g>
<g id="b-wushi"><circle class="n" cx="2535" cy="1076" r="5"/><text class="t" x="2534" y="1093" font-size="42" textLength="133" lengthAdjust="spacingAndGlyphs">Wushi</text></g>
<g id="b-ruoqiang"><circle class="n" cx="2048" cy="1093" r="11"/><text class="t" x="2050" y="1120" font-size="47" textLength="239" lengthAdjust="spacingAndGlyphs">Ruoqiang</text></g>
<g id="b-baicheng"><circle class="n" cx="2343" cy="1178" r="7"/><text class="t" x="2347" y="1203" font-size="44" textLength="212" lengthAdjust="spacingAndGlyphs">Baicheng</text></g>
<g id="b-hejing"><circle class="n" cx="1762" cy="1206" r="7"/><text class="t" x="1763" y="1229" font-size="44" textLength="146" lengthAdjust="spacingAndGlyphs">Hejing</text></g>
<g id="b-luntai"><circle class="n" cx="1950" cy="1247" r="12"/><text class="t" x="1952" y="1272" font-size="50" textLength="159" lengthAdjust="spacingAndGlyphs">Luntai</text></g>
<g id="b-heshuo"><circle class="n" cx="2159" cy="1256" r="8"/><text class="t" x="2163" y="1281" font-size="50" textLength="186" lengthAdjust="spacingAndGlyphs">Heshuo</text></g>
</g>
<g id="nodes-c">
<g id="c-ruoqiang"><circle class="n" cx="3280" cy="29" r="6"/><text class="t" x="3282" y="54" font-size="40" textLength="204" lengthAdjust="spacingAndGlyphs">Ruoqiang</text></g>
<g id="c-yanqi"><circle class="n" cx="3471" cy="16" r="8"/><text class="t" x="3472" y="44" font-size="44" textLength="133" lengthAdjust="spacingAndGlyphs">Yanqi</text></g>
<g id="c-heshuo"><circle class="n" cx="3104" cy="80" r="7"/><text class="t" x="3107" y="101" font-size="42" textLength="176" lengthAdjust="spacingAndGlyphs">Heshuo</text></g>
<g id="c-korla"><circle class="n" cx="3661" cy="86" r="11"/><text class="t" x="3663" y="113" font-size="48" textLength="136" lengthAdjust="spacingAndGlyphs">Korla</text></g>
<g id="c-yuli"><circle class="n" cx="2945" cy="217" r="7"/><text class="t" x="2946" y="233" font-size="44" textLength="89" lengthAdjust="spacingAndGlyphs">Yuli</text></g>
<g id="c-shaya"><circle class="n" cx="3482" cy="198" r="16"/><text class="t" x="3481" y="230" font-size="55" textLength="168" lengthAdjust="spacingAndGlyphs">Shaya</text></g>
<g id="c-hejing"><circle class="n" cx="3850" cy="208" r="5"/><text class="t" x="3851" y="230" font-size="38" textLength="135" lengthAdjust="spacingAndGlyphs">Hejing</text></g>
<g id="c-xinhe"><circle class="n" cx="3128" cy="267" r="10"/><text class="t" x="3128" y="288" font-size="50" textLength="139" lengthAdjust="spacingAndGlyphs">Xinhe</text></g>
<g id="c-awati"><circle class="n" cx="3315" cy="254" r="13"/><text class="t" x="3316" y="280" font-size="53" textLength="151" lengthAdjust="spacingAndGlyphs">Awati</text></g>
<g id="c-qiemo"><circle class="n" cx="3678" cy="290" r="14"/><text class="t" x="3678" y="312" font-size="48" textLength="174" lengthAdjust="spacingAndGlyphs">Qiemo</text></g>
<g id="c-taxkorgan"><circle class="n" cx="2841" cy="397" r="7"/><text class="t" x="2848" y="418" font-size="43" textLength="235" lengthAdjust="spacingAndGlyphs">Taxkorgan</text></g>
<g id="c-aksu"><circle class="n" cx="3521" cy="381" r="16"/><text class="t" x="3520" y="414" font-size="62" textLength="146" lengthAdjust="spacingAndGlyphs">Aksu</text></g>
<g id="c-luntai"><circle class="n" cx="3922" cy="389" r="9"/><text class="t" x="3924" y="414" font-size="50" textLength="152" lengthAdjust="spacingAndGlyphs">Luntai</text></g>
<g id="c-wensu"><circle class="n" cx="3210" cy="437" r="16"/><text class="t" x="3211" y="460" font-size="59" textLength="198" lengthAdjust="spacingAndGlyphs">Wensu</text></g>
<g id="c-minfeng"><circle class="n" cx="3022" cy="456" r="15"/><text class="t" x="3022" y="489" font-size="57" textLength="219" lengthAdjust="spacingAndGlyphs">Minfeng</text></g>
<g id="c-bohu"><circle class="n" cx="3376" cy="488" r="29"/><text class="t" x="3378" y="519" font-size="73" textLength="183" lengthAdjust="spacingAndGlyphs">Bohu</text></g>
<g id="c-kuche"><circle class="n" cx="3737" cy="458" r="14"/><text class="t" x="3735" y="479" font-size="53" textLength="177" lengthAdjust="spacingAndGlyphs">Kuche</text></g>
<g id="c-wushi"><circle class="n" cx="2806" cy="576" r="8"/><text class="t" x="2807" y="595" font-size="47" textLength="150" lengthAdjust="spacingAndGlyphs">Wushi</text></g>
<g id="c-aheqi"><circle class="n" cx="3558" cy="585" r="22"/><text class="t" x="3558" y="618" font-size="67" textLength="183" lengthAdjust="spacingAndGlyphs">Aheqi</text></g>
<g id="c-baicheng"><circle class="n" cx="3999" cy="589" r="6"/><text class="t" x="4006" y="609" font-size="40" textLength="200" lengthAdjust="spacingAndGlyphs">Baicheng</text></g>
<g id="c-luopu"><circle class="n" cx="3162" cy="611" r="17"/><text class="t" x="3162" y="641" font-size="53" textLength="169" lengthAdjust="spacingAndGlyphs">Luopu</text></g>
<g id="c-moyu"><circle class="n" cx="3810" cy="619" r="18"/><text class="t" x="3811" y="656" font-size="59" textLength="148" lengthAdjust="spacingAndGlyphs">Moyu</text></g>
<g id="c-hotan"><circle class="n" cx="2980" cy="663" r="10"/><text class="t" x="2979" y="685" font-size="50" textLength="146" lengthAdjust="spacingAndGlyphs">Hotan</text></g>
<g id="c-yutian"><circle class="n" cx="3374" cy="656" r="13"/><text class="t" x="3373" y="691" font-size="54" textLength="178" lengthAdjust="spacingAndGlyphs">Yutian</text></g>
<g id="c-hotancity"><circle class="n" cx="3684" cy="730" r="19"/><text class="t" x="3684" y="764" font-size="58" textLength="313" lengthAdjust="spacingAndGlyphs">Hotan City</text></g>
<g id="c-cele"><circle class="n" cx="3915" cy="787" r="12"/><text class="t" x="3916" y="807" font-size="47" textLength="111" lengthAdjust="spacingAndGlyphs">Cele</text></g>
<g id="c-aketao"><circle class="n" cx="2797" cy="767" r="7"/><text class="t" x="2798" y="785" font-size="41" textLength="154" lengthAdjust="spacingAndGlyphs">Aketao</text></g>
<g id="c-bachu"><circle class="n" cx="3206" cy="778" r="19"/><text class="t" x="3208" y="805" font-size="58" textLength="200" lengthAdjust="spacingAndGlyphs">Bachu</text></g>
<g id="c-yecheng"><circle class="n" cx="3517" cy="803" r="17"/><text class="t" x="3515" y="832" font-size="55" textLength="252" lengthAdjust="spacingAndGlyphs">Yecheng</text></g>
<g id="c-shufu"><circle class="n" cx="3017" cy="855" r="17"/><text class="t" x="3017" y="878" font-size="55" textLength="168" lengthAdjust="spacingAndGlyphs">Shufu</text></g>
<g id="c-shache"><circle class="n" cx="3354" cy="893" r="16"/><text class="t" x="3354" y="918" font-size="58" textLength="218" lengthAdjust="spacingAndGlyphs">Shache</text></g>
<g id="c-zepu"><circle class="n" cx="3689" cy="914" r="14"/><text class="t" x="3688" y="943" font-size="52" textLength="137" lengthAdjust="spacingAndGlyphs">Zepu</text></g>
<g id="c-wuqia"><circle class="n" cx="2852" cy="953" r="6"/><text class="t" x="2850" y="976" font-size="41" textLength="137" lengthAdjust="spacingAndGlyphs">Wuqia</text></g>
<g id="c-kashi"><circle class="n" cx="3160" cy="968" r="16"/><text class="t" x="3162" y="997" font-size="58" textLength="165" lengthAdjust="spacingAndGlyphs">Kashi</text></g>
<g id="c-pishan"><circle class="n" cx="3880" cy="966" r="7"/><text class="t" x="3882" y="985" font-size="47" textLength="157" lengthAdjust="spacingAndGlyphs">Pishan</text></g>
<g id="c-maigaiti"><circle class="n" cx="3528" cy="1010" r="17"/><text class="t" x="3530" y="1043" font-size="61" textLength="231" lengthAdjust="spacingAndGlyphs">Maigaiti</text></g>
<g id="c-shule"><circle class="n" cx="3336" cy="1072" r="15"/><text class="t" x="3336" y="1095" font-size="58" textLength="162" lengthAdjust="spacingAndGlyphs">Shule</text></g>
<g id="c-atushi"><circle class="n" cx="3003" cy="1087" r="13"/><text class="t" x="3002" y="1112" font-size="52" textLength="178" lengthAdjust="spacingAndGlyphs">Atushi</text></g>
<g id="c-keping"><circle class="n" cx="3734" cy="1099" r="10"/><text class="t" x="3737" y="1126" font-size="47" textLength="171" lengthAdjust="spacingAndGlyphs">Keping</text></g>
<g id="c-jiashi"><circle class="n" cx="3169" cy="1176" r="17"/><text class="t" x="3169" y="1206" font-size="58" textLength="170" lengthAdjust="spacingAndGlyphs">Jiashi</text></g>
<g id="c-yingjisha"><circle class="n" cx="3557" cy="1199" r="13"/><text class="t" x="3556" y="1229" font-size="50" textLength="248" lengthAdjust="spacingAndGlyphs">Yingjisha</text></g>
<g id="c-yuepuhu"><circle class="n" cx="3360" cy="1239" r="15"/><text class="t" x="3360" y="1270" font-size="55" textLength="248" lengthAdjust="spacingAndGlyphs">Yuepuhu</text></g>
</g>
</svg>
